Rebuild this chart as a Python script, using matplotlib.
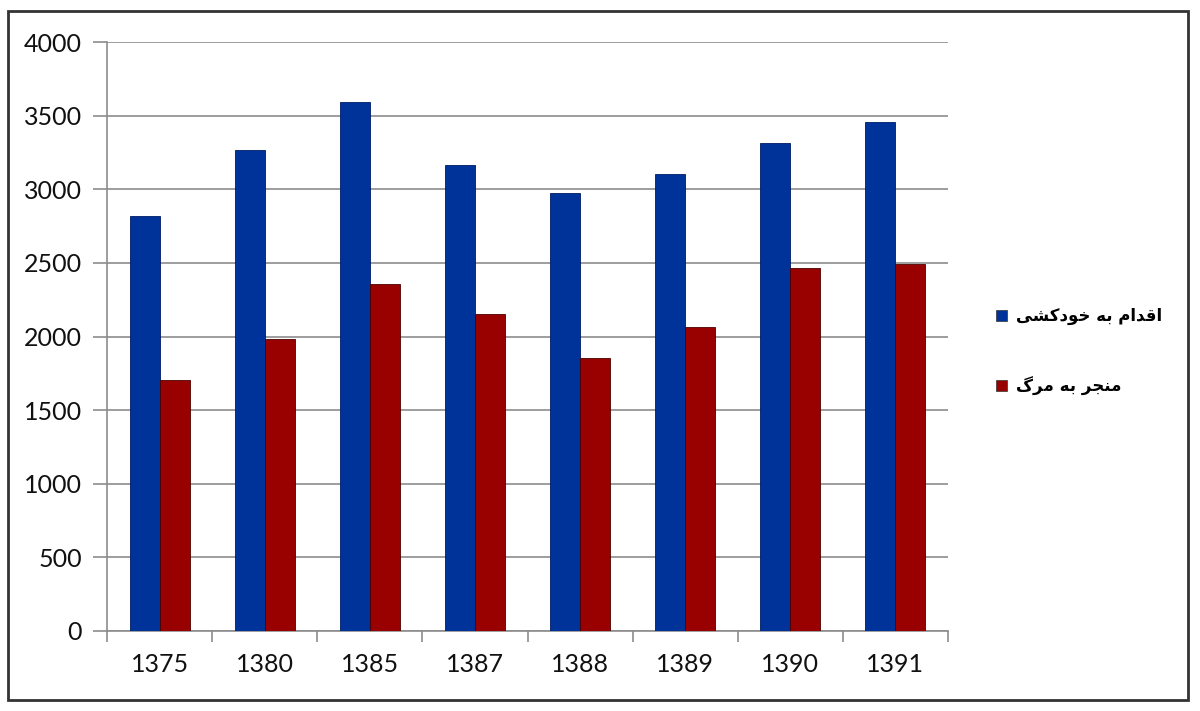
import matplotlib.pyplot as plt
import numpy as np
from matplotlib.patches import Rectangle

years = ['1375', '1380', '1385', '1387', '1388', '1389', '1390', '1391']
attempts = [2818, 3267, 3593, 3165, 2975, 3104, 3314, 3457]
deaths = [1705, 1983, 2357, 2153, 1854, 2065, 2465, 2492]
labels = ['اقدام به خودکشی', 'منجر به مرگ']
colors = ['#003399', '#990000']

# minimal persian shaping (matplotlib has no bidi/joining support)
FORMS = {
    'ا': ('\uFE8D', '\uFE8E', None, None),
    'د': ('\uFEA9', '\uFEAA', None, None),
    'و': ('\uFEED', '\uFEEE', None, None),
    'ر': ('\uFEAD', '\uFEAE', None, None),
    'ق': ('\uFED5', '\uFED6', '\uFED7', '\uFED8'),
    'م': ('\uFEE1', '\uFEE2', '\uFEE3', '\uFEE4'),
    'ب': ('\uFE8F', '\uFE90', '\uFE91', '\uFE92'),
    'ه': ('\uFEE9', '\uFEEA', '\uFEEB', '\uFEEC'),
    'خ': ('\uFEA5', '\uFEA6', '\uFEA7', '\uFEA8'),
    'ک': ('\uFB8E', '\uFB8F', '\uFB90', '\uFB91'),
    'ش': ('\uFEB5', '\uFEB6', '\uFEB7', '\uFEB8'),
    'ی': ('\uFBFC', '\uFBFD', '\uFBFE', '\uFBFF'),
    'ن': ('\uFEE5', '\uFEE6', '\uFEE7', '\uFEE8'),
    'ج': ('\uFE9D', '\uFE9E', '\uFE9F', '\uFEA0'),
    'گ': ('\uFB92', '\uFB93', '\uFB94', '\uFB95'),
}


def shape(s):
    out = []
    for i, c in enumerate(s):
        if c not in FORMS:
            out.append(c)
            continue
        prev = s[i - 1] if i > 0 else ''
        nxt = s[i + 1] if i + 1 < len(s) else ''
        jp = prev in FORMS and FORMS[prev][2] is not None
        jn = FORMS[c][2] is not None and nxt in FORMS
        iso, fin, ini, med = FORMS[c]
        if jp and jn:
            out.append(med)
        elif jp:
            out.append(fin)
        elif jn:
            out.append(ini)
        else:
            out.append(iso)
    return ''.join(out)[::-1]


plt.rcParams['font.family'] = ['Lato', 'DejaVu Sans']

fig = plt.figure(figsize=(12, 7.11), dpi=100)
ax = fig.add_axes([107 / 1200, 1 - 631 / 711, 841 / 1200, 589 / 711])

x = np.arange(len(years))
w = 0.285
ax.bar(x - w / 2, attempts, w, color=colors[0], edgecolor='#001a66', linewidth=0.6, zorder=3)
ax.bar(x + w / 2, deaths, w, color=colors[1], edgecolor='#4d0000', linewidth=0.6, zorder=3)

ax.set_xlim(-0.5, len(years) - 0.5)
ax.set_ylim(0, 4000)
ax.set_yticks(range(0, 4001, 500))
ax.yaxis.grid(True, color='#8c8c8c', linewidth=1.2, zorder=0)
for s in ['top', 'right']:
    ax.spines[s].set_visible(False)
ax.spines['left'].set_color('#8c8c8c')
ax.spines['bottom'].set_color('#8c8c8c')
ax.spines['left'].set_linewidth(1.2)
ax.spines['bottom'].set_linewidth(1.2)

ax.set_xticks(x)
ax.set_xticklabels(years)
ax.set_xticks(np.arange(-0.5, len(years)), minor=True)
ax.tick_params(axis='x', which='major', length=0, pad=16, labelsize=18, labelcolor='#111111')
ax.tick_params(axis='x', which='minor', length=8, color='#8c8c8c', width=1.2)
ax.tick_params(axis='y', length=10, color='#8c8c8c', width=1.2, pad=8, labelsize=18,
               labelcolor='#111111')

# legend drawn as markers + text
for i, (lab, col) in enumerate(zip(labels, colors)):
    yy = 1 - (316 + 70 * i) / 711
    fig.patches.append(Rectangle((996 / 1200, yy - 5 / 711), 11 / 1200, 11 / 711,
                                 transform=fig.transFigure, facecolor=col,
                                 edgecolor='#333333', linewidth=0.5))
    fig.text(1016 / 1200, yy, shape(lab), fontsize=12, fontweight='bold',
             family='DejaVu Sans', va='center', ha='left')

# outer frame
fig.patches.append(Rectangle((8 / 1200, 1 - 700 / 711), 1180 / 1200, 689 / 711,
                             transform=fig.transFigure, fill=False,
                             edgecolor='#333333', linewidth=2))

fig.savefig('out.png', dpi=100)
